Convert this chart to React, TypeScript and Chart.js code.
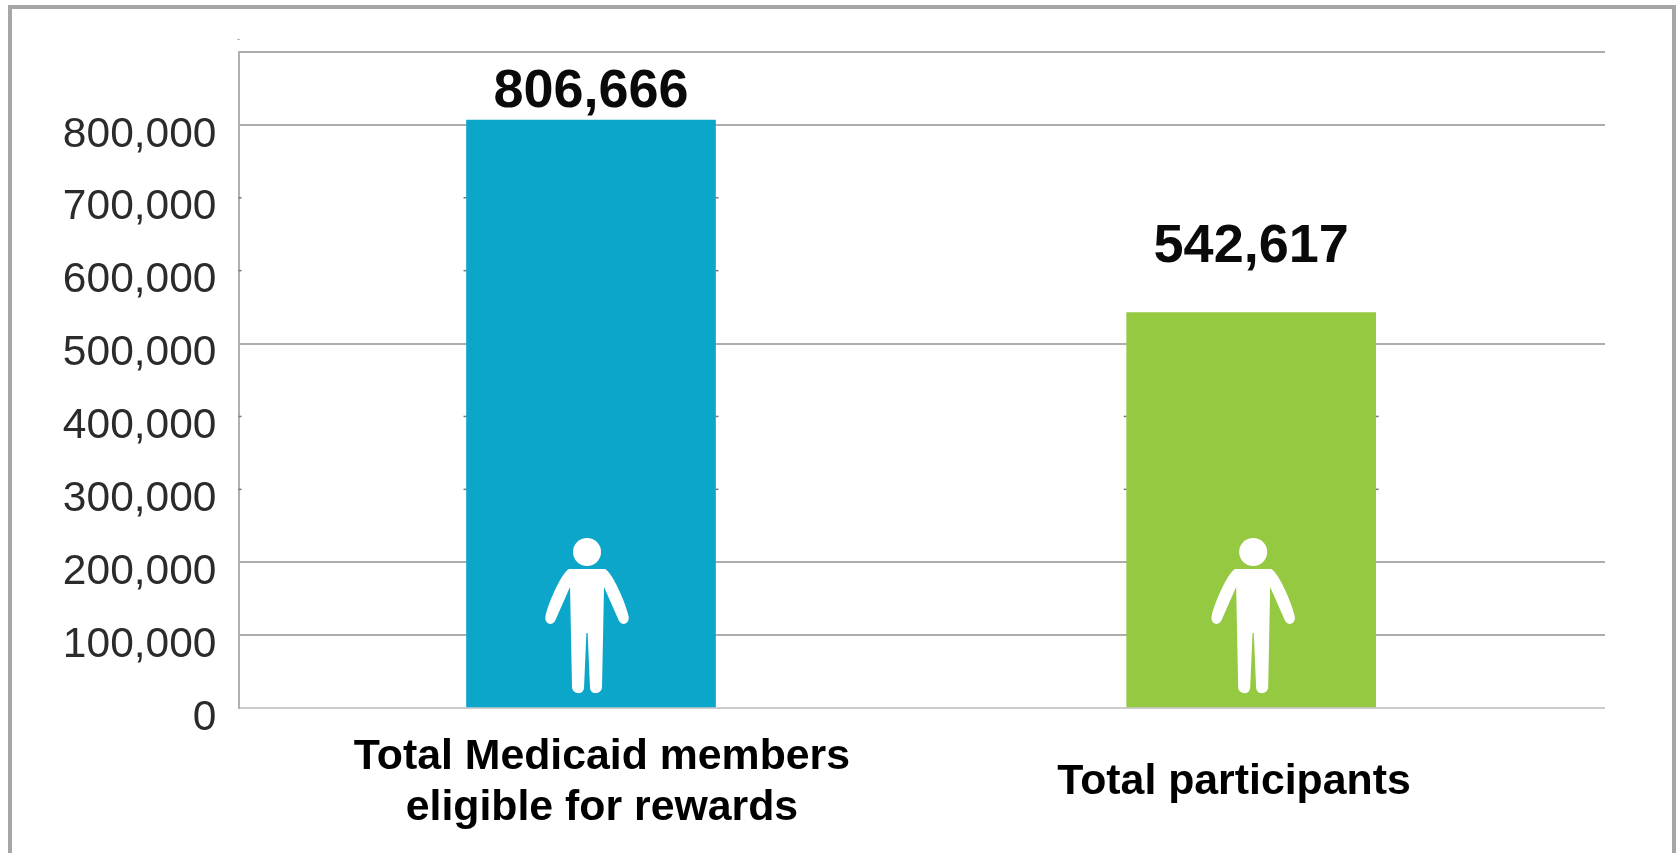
import React, { useEffect, useRef } from "react";
import { Chart, registerables } from "chart.js";

Chart.register(...registerables);

const categories = [["Total Medicaid members", "eligible for rewards"], ["Total participants"]];
const memberCounts = [806666, 542617];
const barColors = ["#0BA6C9", "#95C941"];
const valueLabels = ["806,666", "542,617"];
const ruledValues = [0, 100000, 200000, 500000, 800000, 900000];
const unlabelledValues = [900000];

const valueLabelGap = [28, 65];
const iconShift = [-4, 2];

// White standing figure, in pixels from its vertical axis and the bar's base.
function drawPerson(ctx: CanvasRenderingContext2D, cx: number, base: number) {
  ctx.save();
  ctx.translate(cx, base);
  ctx.fillStyle = "#ffffff";
  ctx.beginPath();
  ctx.arc(0, -156, 14, 0, Math.PI * 2);
  ctx.fill();
  ctx.beginPath();
  ctx.moveTo(18, -139);
  ctx.bezierCurveTo(24, -137, 38, -108, 41.5, -92);
  ctx.bezierCurveTo(43, -85, 36, -81, 32, -87);
  ctx.lineTo(17, -121);
  ctx.lineTo(15, -21);
  ctx.bezierCurveTo(15, -14, 4, -12, 3, -20);
  ctx.lineTo(0.6, -75);
  ctx.lineTo(-0.6, -75);
  ctx.lineTo(-3, -20);
  ctx.bezierCurveTo(-4, -12, -15, -14, -15, -21);
  ctx.lineTo(-17, -121);
  ctx.lineTo(-32, -87);
  ctx.bezierCurveTo(-36, -81, -43, -85, -41.5, -92);
  ctx.bezierCurveTo(-38, -108, -24, -137, -18, -139);
  ctx.closePath();
  ctx.fill();
  ctx.restore();
}

const barDecorations = {
  id: "barDecorations",
  beforeDatasetsDraw(chart: any) {
    const { ctx, chartArea, scales } = chart;
    const bars = chart.getDatasetMeta(0).data;
    ctx.save();
    ctx.strokeStyle = "#777777";
    ctx.lineWidth = 1.5;
    // Short stubs where the fainter rules meet the axis and the bars.
    for (const value of scales.y.ticks.map((t: any) => t.value)) {
      if (ruledValues.includes(value)) continue;
      const y = scales.y.getPixelForValue(value);
      const stubs = [chartArea.left];
      bars.forEach((bar: any) => {
        if (y > bar.y) stubs.push(bar.x - bar.width / 2 - 3, bar.x + bar.width / 2);
      });
      for (const x of stubs) {
        ctx.beginPath();
        ctx.moveTo(x, y);
        ctx.lineTo(x + 3, y);
        ctx.stroke();
      }
    }
    // Speck just above the top of the axis.
    ctx.fillStyle = "#999999";
    ctx.fillRect(chartArea.left - 1, chartArea.top - 13, 2, 1);
    ctx.restore();
  },
  afterDatasetsDraw(chart: any) {
    const { ctx, chartArea } = chart;
    const bars = chart.getDatasetMeta(0).data;
    ctx.save();
    ctx.font = "bold 54px 'Liberation Sans'";
    ctx.textAlign = "center";
    ctx.textBaseline = "middle";
    ctx.fillStyle = "#0a0a0a";
    bars.forEach((bar: any, i: number) => {
      ctx.fillText(valueLabels[i], bar.x, bar.y - valueLabelGap[i]);
      drawPerson(ctx, bar.x + iconShift[i], chartArea.bottom);
    });
    ctx.restore();
  },
};

export default function App() {
  const ref = useRef<HTMLCanvasElement>(null);

  useEffect(() => {
    const chart = new Chart(ref.current as HTMLCanvasElement, {
      type: "bar",
      data: {
        datasets: [
          {
            data: memberCounts.map((y, x) => ({ x, y })),
            backgroundColor: barColors,
            barThickness: 249,
            xAxisID: "x",
            yAxisID: "y",
          },
        ],
      },
      options: {
        responsive: false,
        animation: false,
        layout: { padding: { top: 52, right: 74, left: 0, bottom: 0 } },
        plugins: { legend: { display: false }, tooltip: { enabled: false } },
        scales: {
          x: {
            type: "linear",
            display: false,
            offset: false,
            min: -0.534,
            max: 1.536,
            grid: { display: false },
          },
          categoryAxis: {
            type: "linear",
            position: "bottom",
            axis: "x",
            offset: false,
            min: -0.575,
            max: 1.587,
            afterBuildTicks(scale: any) {
              scale.ticks = categories.map((_, value) => ({ value }));
            },
            afterFit(scale: any) {
              scale.height = 145;
            },
            grid: { display: false, drawTicks: false },
            border: { display: false },
            ticks: {
              autoSkip: false,
              maxRotation: 0,
              padding: 49,
              crossAlign: "center",
              color: "#000000",
              font: { family: "'Liberation Sans'", size: 42.8, weight: "bold", lineHeight: 1.19 },
              callback: (value: any) => categories[value],
            },
          },
          y: {
            min: 0,
            max: 900000,
            afterFit(scale: any) {
              scale.width = 238.5;
            },
            afterBuildTicks(scale: any) {
              scale.ticks = scale.ticks.filter((t: any) => t.value % 100000 === 0);
            },
            grid: {
              drawTicks: false,
              lineWidth: 2,
              color: (c: any) =>
                c.tick.value === 0 ? "#cccccc" : ruledValues.includes(c.tick.value) ? "#adadad" : "rgba(0,0,0,0)",
            },
            border: { display: true, color: "#b0b0b0", width: 2 },
            ticks: {
              stepSize: 100000,
              padding: 22,
              labelOffset: 10,
              color: "#2b2b2b",
              font: { family: "'Liberation Sans'", size: 42.5 },
              callback: (value: any) =>
                unlabelledValues.includes(value) ? "" : Number(value).toLocaleString("en-US"),
            },
          },
        },
      } as any,
      plugins: [barDecorations],
    });
    return () => chart.destroy();
  }, []);

  return (
    <div style={{ position: "fixed", inset: 0, overflow: "hidden", background: "#ffffff" }}>
      <canvas ref={ref} width={1679} height={853} style={{ position: "absolute", left: 0, top: 0, display: "block" }} />
      <div
        style={{
          position: "absolute",
          left: 8,
          top: 5,
          width: 1660,
          height: 900,
          border: "4px solid #a6a6a6",
          pointerEvents: "none",
        }}
      />
    </div>
  );
}
